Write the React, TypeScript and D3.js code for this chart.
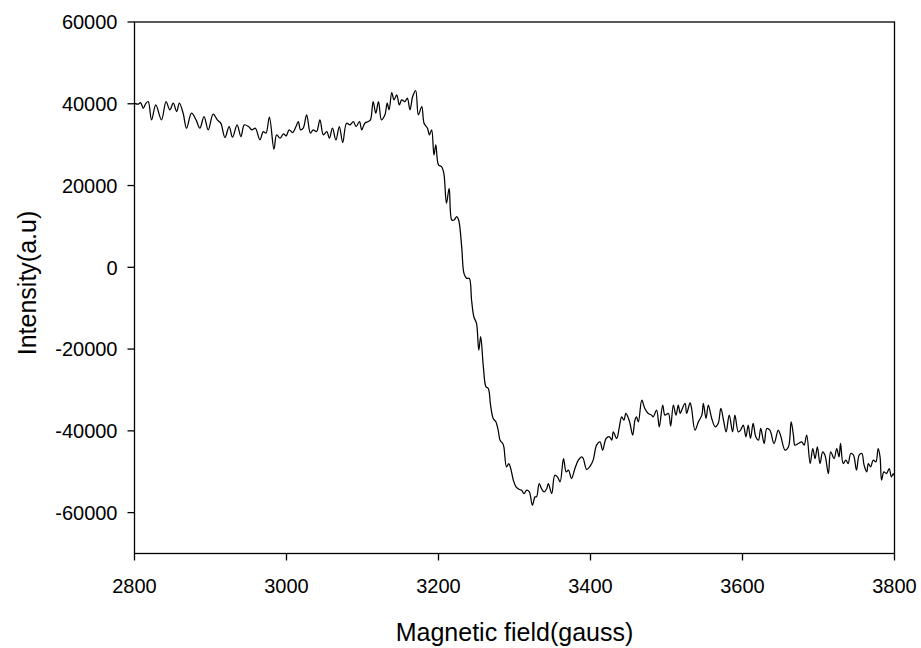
import React from "react";
import * as d3 from "d3";

// Magnetic field (gauss) and intensity (a.u.)
const field: number[] = [
  2800, 2805, 2808, 2811.5, 2815, 2818, 2822.5, 2828, 2835.5, 2841.5,
  2846.5, 2851, 2855.5, 2859, 2864, 2868.5, 2875, 2881, 2886, 2891.5,
  2897, 2903.5, 2909, 2913.5, 2919, 2924.5, 2929, 2935, 2940, 2944.5,
  2950, 2954.5, 2959, 2965, 2969.5, 2973, 2977.5, 2983.5, 2987, 2991.5,
  2996, 2999.5, 3003.5, 3008, 3012.5, 3015.5, 3018.5, 3022, 3026.5, 3031.5,
  3035, 3039.5, 3044, 3048.5, 3053, 3056.5, 3060.5, 3065, 3069.5, 3074,
  3079, 3083.5, 3088, 3091.5, 3096, 3099, 3103, 3107.5, 3110.5, 3114,
  3117.5, 3121, 3125, 3129.5, 3132.5, 3135, 3138.5, 3141.5, 3145, 3148.5,
  3151.5, 3156, 3159, 3162.5, 3166, 3170, 3173.5, 3178, 3181,
  3185.5, 3188, 3191, 3194, 3196.5, 3200, 3204, 3207, 3210.5, 3214,
  3217.5, 3220.5, 3224, 3226.5, 3230.5, 3233.5, 3237, 3240.5, 3243.5, 3246.5,
  3250, 3253, 3255.5, 3259, 3262.5, 3265.5, 3268.5, 3272, 3275.5, 3278.5,
  3281, 3284.5, 3286, 3289.5, 3292.5, 3295, 3298.5, 3302, 3306.5, 3309.5,
  3312.5, 3316, 3319.5, 3323.5, 3327, 3329, 3332.5, 3335.5, 3339, 3342.5,
  3344.5, 3349, 3353,
  3356.5, 3360, 3364.5, 3368, 3371, 3375, 3379.5, 3384, 3388.5, 3390.5,
  3395, 3399.5, 3403.5, 3408, 3412.5, 3416, 3420.5, 3425, 3428, 3430,
  3434.5, 3438, 3441, 3444, 3446.5, 3450,
  3452, 3455.5, 3458.5, 3460.5, 3463, 3467.5, 3471.5, 3476, 3480.5, 3482.5,
  3487, 3490.5, 3495, 3498, 3502.5, 3505.5, 3509, 3512.5, 3515.5, 3518,
  3520, 3524.5, 3526.5, 3531, 3533, 3537.5, 3542, 3546.5, 3548.5, 3552,
  3555, 3559.5, 3564, 3568, 3571.5, 3575, 3578.5, 3582.5, 3587, 3590,
  3594.5, 3597.5, 3601, 3604.5, 3607.5, 3610.5, 3614, 3617.5, 3621, 3624,
  3628.5, 3632, 3636,
  3641.5, 3647, 3650, 3656, 3660.5, 3664, 3667, 3669, 3673.5, 3678,
  3681, 3684.5, 3689, 3692.5, 3695.5, 3698.5, 3702, 3705.5, 3708.5, 3713,
  3716, 3720.5, 3724, 3727, 3729, 3732.5, 3736, 3739, 3742.5, 3746,
  3750, 3753.5, 3757, 3760, 3763.5, 3765.5, 3768.5, 3772, 3775.5, 3778.5,
  3781, 3783, 3786, 3789.5, 3793, 3796, 3798.5, 3800,
];

const intensity: number[] = [
  40100, 39900, 40300, 38900, 40100, 40550, 36060, 39730, 36060, 40550,
  38510, 40140, 38100, 40140, 37690, 34020, 37690, 36060, 34020, 36880,
  33610, 37450, 36060, 35250, 31740, 34430, 31820, 34840, 31980, 34840,
  34430, 33610, 34020, 31170, 33210, 32800, 36710, 28880, 32390, 31570,
  32640, 32150, 33610, 32960, 34430, 35650, 33610, 34020, 37290, 32800,
  33610, 33210, 36060, 32390, 33210, 31570, 34020, 31170, 34430, 30510,
  35250, 34840, 35650, 34430, 35650, 33610, 35250, 35650, 36060, 40550,
  37690, 40550, 36060, 37290, 40140, 38510, 42750, 40960, 42180, 39730,
  40960, 40550, 41370, 38510, 41770, 43240, 37290, 39330, 35250,
  34020, 32390, 33610, 27490, 29940, 25040, 24640, 23000, 15660, 19330,
  11580, 11580, 12400, 11580, 5050, -1480, -2700, -2700, -8000, -12090,
  -13720, -20250, -16980, -24330, -29220, -29630, -33710, -36970, -37790, -39830,
  -42280, -43090, -43910, -48810, -47990, -49210, -52070, -53700, -54360, -54520,
  -55330, -54520, -54930, -58190, -56150, -56150, -52890, -54110, -54930, -54110,
  -52890, -55330, -50850,
  -51250, -52480, -46770, -50030, -49620, -51660, -49210, -47170, -46360, -46770,
  -49460, -48640, -47170, -43500, -42690, -44730, -41870, -41460, -42280, -40240,
  -41870, -39010, -36570, -37380, -35750, -36970,
  -38200, -41050, -37380, -36570, -37790, -32490, -34530, -35750, -36160, -36570,
  -34930, -39010, -33710, -36160, -35750, -38850, -33710, -36160, -33710, -35750,
  -34930, -33300, -35750, -33140, -34530, -39830, -37790, -36160, -33300, -36970,
  -33710, -36970, -39010, -38200, -34530, -37380, -40240, -36160, -40240, -36160,
  -40240, -39830, -38610, -41460, -38610, -41870, -38200, -41460, -42280, -39420,
  -43090, -39420, -39830,
  -43090, -39830, -41050, -44730, -43910, -37790, -41050, -43500, -43090, -42690,
  -43500, -41050, -47990, -44320, -46770, -43910, -47990, -45130, -45950, -50440,
  -45130, -46770, -44320, -46360, -43090, -47990, -47170, -47990, -45540, -45950,
  -49620, -45950, -45540, -48400, -50030, -47990, -48810, -47170, -47580, -44320,
  -46360, -52070, -50030, -50440, -49210, -51250, -50440, -51000,
];

const xTicks: number[] = [2800, 3000, 3200, 3400, 3600, 3800];
const yTicks: number[] = [60000, 40000, 20000, 0, -20000, -40000, -60000];

const xTitle = "Magnetic field(gauss)";
const yTitle = "Intensity(a.u)";

const W = 921;
const H = 648;
const left = 134.5;
const right = 894.5;
const top = 22;
const bottom = 553.5;
const FONT = "'Liberation Sans', Arial, Helvetica, sans-serif";

export default function App() {
  const x = d3.scaleLinear().domain([2800, 3800]).range([left, right]);
  const y = d3.scaleLinear().domain([-70000, 60000]).range([bottom, top]);

  const pts: [number, number][] = field.map((f, i) => [f, intensity[i]]);
  const line = d3
    .line<[number, number]>()
    .x((d) => x(d[0]))
    .y((d) => y(d[1]))
    .curve(d3.curveCatmullRom.alpha(0.5));

  return (
    <svg
      width={W}
      height={H}
      style={{ position: "absolute", left: 0, top: 0, background: "#fff" }}
      fontFamily={FONT}
    >
      <rect x={0} y={0} width={W} height={H} fill="#fff" />
      <path d={line(pts) || ""} fill="none" stroke="#000" strokeWidth={1.25} strokeLinejoin="round" />
      <rect
        x={left}
        y={top}
        width={right - left}
        height={bottom - top}
        fill="none"
        stroke="#000"
        strokeWidth={1.3}
      />
      {yTicks.map((t) => (
        <g key={"y" + t}>
          <line x1={left - 7} x2={left} y1={y(t)} y2={y(t)} stroke="#000" strokeWidth={1.3} />
          <text x={left - 17} y={y(t)} dy="0.36em" textAnchor="end" fontSize={20} fill="#000">
            {t}
          </text>
        </g>
      ))}
      {xTicks.map((t) => (
        <g key={"x" + t}>
          <line x1={x(t)} x2={x(t)} y1={bottom} y2={bottom + 7} stroke="#000" strokeWidth={1.3} />
          <text x={x(t)} y={593} textAnchor="middle" fontSize={20} fill="#000">
            {t}
          </text>
        </g>
      ))}
      <text x={(left + right) / 2} y={641} textAnchor="middle" fontSize={25} fill="#000">
        {xTitle}
      </text>
      <text
        transform={`translate(36, 283) rotate(-90)`}
        textAnchor="middle"
        fontSize={25}
        fill="#000"
      >
        {yTitle}
      </text>
    </svg>
  );
}
